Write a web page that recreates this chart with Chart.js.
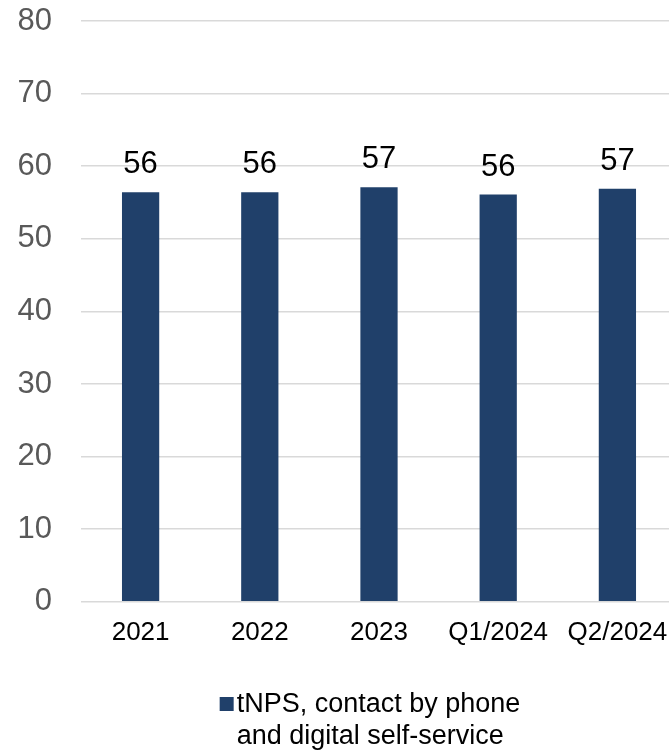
<!DOCTYPE html>
<html>
<head>
<meta charset="utf-8">
<script src="https://cdn.jsdelivr.net/npm/chart.js@4.4.1/dist/chart.umd.min.js"></script>
<style>
  html, body { margin: 0; padding: 0; overflow: hidden; background: #ffffff; }
  #wrap { width: 740px; height: 751px; position: relative; }
</style>
</head>
<body>
<div id="wrap"><canvas id="c"></canvas></div>
<script>
const categories = ['2021', '2022', '2023', 'Q1/2024', 'Q2/2024'];
const seriesLabel = ['tNPS, contact by phone', 'and digital self-service'];
const tnpsValues = [56.4, 56.4, 57.1, 56.1, 56.9];
const yTicks = [0, 10, 20, 30, 40, 50, 60, 70, 80];

const FONT = "'Liberation Sans', Arial, sans-serif";
const LEGEND_SPACE = 88;

const valueLabels = {
  id: 'valueLabels',
  afterDatasetsDraw(chart) {
    const ctx = chart.ctx;
    const meta = chart.getDatasetMeta(0);
    ctx.save();
    ctx.font = '31px ' + FONT;
    ctx.fillStyle = '#000000';
    ctx.textAlign = 'center';
    ctx.textBaseline = 'alphabetic';
    meta.data.forEach((bar, i) => {
      const v = chart.data.datasets[0].data[i];
      ctx.fillText(String(Math.round(v)), bar.x, bar.y - 19);
    });
    ctx.restore();
  }
};

const bottomLegend = {
  id: 'bottomLegend',
  afterDraw(chart) {
    const ctx = chart.ctx;
    const ds = chart.data.datasets[0];
    const lines = Array.isArray(ds.label) ? ds.label : [ds.label];
    const box = 14, gap = 3, lineH = 32;
    ctx.save();
    ctx.font = '27px ' + FONT;
    const maxW = Math.max(...lines.map(l => ctx.measureText(l).width));
    const blockW = box + gap + maxW;
    const x0 = chart.width / 2 - blockW / 2;
    const top = chart.height - LEGEND_SPACE;
    const base1 = top + 49;
    ctx.fillStyle = ds.backgroundColor;
    ctx.fillRect(x0, base1 - 15, box, box);
    ctx.fillStyle = '#000000';
    ctx.textAlign = 'left';
    ctx.textBaseline = 'alphabetic';
    lines.forEach((l, i) => ctx.fillText(l, x0 + box + gap, base1 + i * lineH));
    ctx.restore();
  }
};

new Chart(document.getElementById('c'), {
  type: 'bar',
  data: {
    labels: categories,
    datasets: [{
      label: seriesLabel,
      data: tnpsValues,
      backgroundColor: '#20406A',
      borderWidth: 0,
      barPercentage: 0.3125,
      categoryPercentage: 1.0
    }]
  },
  options: {
    responsive: true,
    maintainAspectRatio: false,
    animation: false,
    layout: { padding: { top: 21, right: 63, left: 0, bottom: LEGEND_SPACE } },
    plugins: {
      legend: { display: false },
      tooltip: { enabled: false }
    },
    scales: {
      x: {
        grid: { display: false, drawTicks: false },
        border: { display: false },
        ticks: { color: '#000000', font: { family: FONT, size: 26 }, padding: 15 }
      },
      y: {
        min: 0,
        max: 80,
        afterBuildTicks(scale) { scale.ticks = yTicks.map(v => ({ value: v })); },
        afterFit(scale) { scale.width = 81; scale.paddingTop = 0; scale.paddingBottom = 0; },
        grid: { color: '#D9D9D9', lineWidth: 1.5, drawTicks: false },
        border: { display: false },
        ticks: { color: '#595959', font: { family: FONT, size: 31 }, padding: 29 }
      }
    }
  },
  plugins: [valueLabels, bottomLegend]
});
</script>
</body>
</html>
